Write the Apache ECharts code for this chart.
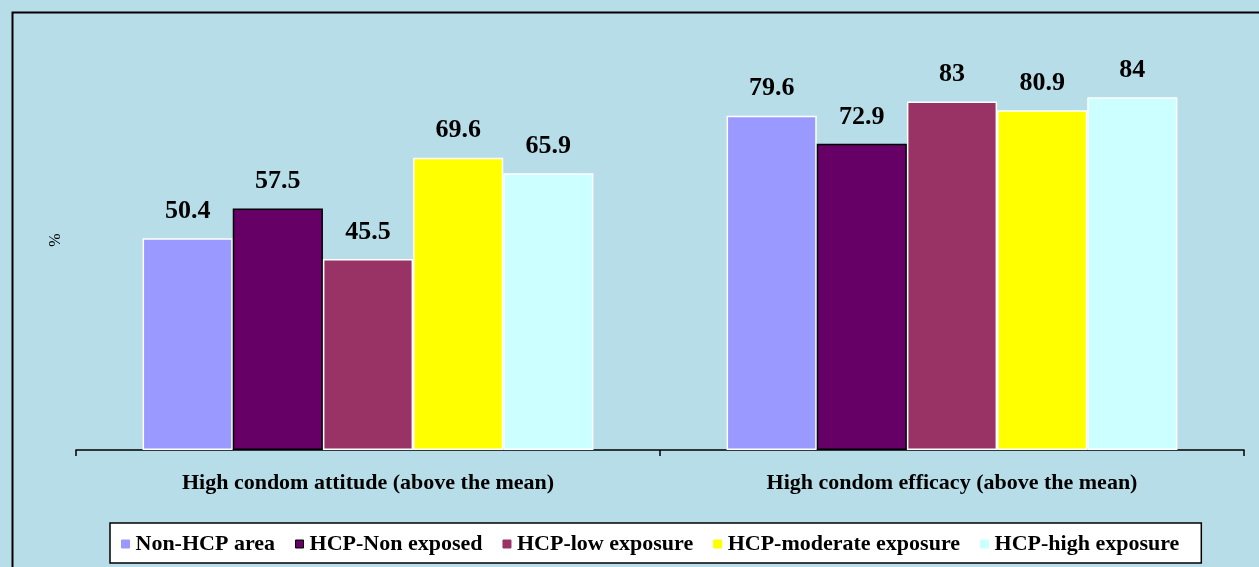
<!DOCTYPE html>
<html>
<head>
<meta charset="utf-8">
<script src="https://cdn.jsdelivr.net/npm/echarts@6/dist/echarts.min.js"></script>
<style>html,body{margin:0;padding:0;background:#b7dde8;}#c{width:1259px;height:567px;}</style>
</head>
<body>
<div id="c"></div>
<script>
var categories = ['High condom attitude (above the mean)', 'High condom efficacy (above the mean)'];
var seriesNames = ['Non-HCP area', 'HCP-Non exposed', 'HCP-low exposure', 'HCP-moderate exposure', 'HCP-high exposure'];
var nonHcp = [50.4, 79.6];
var hcpNonExposed = [57.5, 72.9];
var hcpLow = [45.5, 83];
var hcpModerate = [69.6, 80.9];
var hcpHigh = [65.9, 84];
var colors = ['#9999ff', '#660066', '#993366', '#ffff00', '#ccffff'];
var borders = ['#ffffff', '#000000', '#ffffff', '#ffffff', '#ffffff'];
var values = [nonHcp, hcpNonExposed, hcpLow, hcpModerate, hcpHigh];
var serif = '"Liberation Serif", "DejaVu Serif", serif';

var chart = echarts.init(document.getElementById('c'));
var series = seriesNames.map(function (n, i) {
  return {
    name: n, type: 'bar', data: values[i],
    barGap: '0%', barCategoryGap: '22.8%',
    itemStyle: { color: colors[i], borderColor: borders[i], borderWidth: 1.5 },
    label: { show: true, position: 'top', distance: 14, color: '#000', fontFamily: serif, fontWeight: 'bold', fontSize: 26 }
  };
});
chart.setOption({
  backgroundColor: '#b7dde8',
  animation: false,
  color: colors,
  graphic: [{ type: 'rect', left: 10, top: 10, shape: { x: 0, y: 0, width: 1400, height: 700 }, style: { fill: 'none', stroke: '#000', lineWidth: 2 }, z: 100 }],
  grid: { left: 76, right: 15, top: 30, bottom: 117 },
  xAxis: {
    type: 'category', data: categories,
    axisLine: { lineStyle: { color: '#000', width: 1.5 } },
    axisTick: { show: true, length: 6, lineStyle: { color: '#000', width: 1.5 } },
    axisLabel: { color: '#000', fontFamily: serif, fontWeight: 'bold', fontSize: 22, margin: 22 }
  },
  yAxis: {
    type: 'value', min: 0, max: 100, interval: 20,
    name: '%', nameLocation: 'middle', nameGap: 12, nameRotate: 90,
    nameTextStyle: { color: '#000', fontFamily: serif, fontSize: 16 },
    axisLine: { show: false }, axisTick: { show: false }, axisLabel: { show: false }, splitLine: { show: false }
  },
  legend: {
    left: 110, top: 523,
    backgroundColor: '#ffffff', borderColor: '#000', borderWidth: 1.5,
    padding: [10, 22, 8, 11], itemGap: 20, itemWidth: 8, itemHeight: 8, icon: 'rect',
    textStyle: { color: '#000', fontFamily: serif, fontWeight: 'bold', fontSize: 22, padding: [0, 0, 0, 1] },
    data: seriesNames.map(function (n, i) { return { name: n, itemStyle: { borderColor: i === 1 ? '#000' : colors[i], borderWidth: 1 } }; })
  },
  series: series
});
</script>
</body>
</html>
